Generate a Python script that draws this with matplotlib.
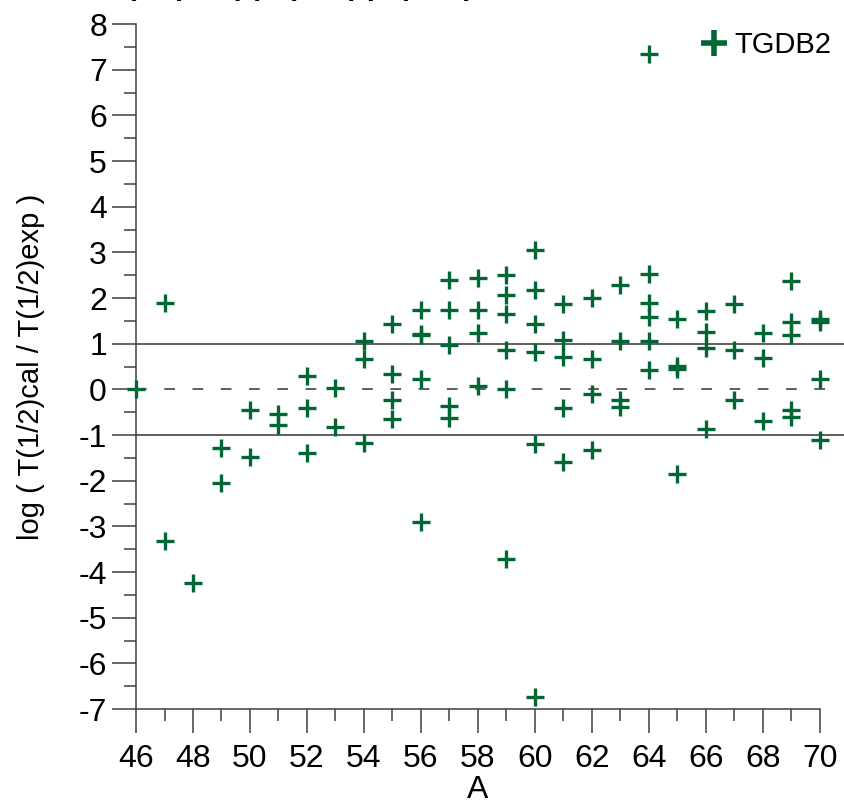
import matplotlib.pyplot as plt
from matplotlib.lines import Line2D
from matplotlib.ticker import MultipleLocator

plt.rcParams['font.family'] = ['Liberation Sans', 'DejaVu Sans']
plt.rcParams['axes.unicode_minus'] = False

# mass number A and log(T1/2 cal / T1/2 exp) values
A = [46,
     47, 47,
     48,
     49, 49,
     50, 50,
     51, 51,
     52, 52, 52,
     53, 53,
     54, 54, 54,
     55, 55, 55, 55,
     56, 56, 56, 56, 56,
     57, 57, 57, 57, 57,
     58, 58, 58, 58,
     59, 59, 59, 59, 59, 59,
     60, 60, 60, 60, 60, 60,
     61, 61, 61, 61, 61,
     62, 62, 62, 62,
     63, 63, 63, 63,
     64, 64, 64, 64, 64, 64,
     65, 65, 65, 65,
     66, 66, 66, 66,
     67, 67, 67,
     68, 68, 68,
     69, 69, 69, 69, 69,
     70, 70, 70, 70]
ratio = [0.0,
         1.89, -3.33,
         -4.25,
         -1.29, -2.06,
         -0.46, -1.48,
         -0.55, -0.77,
         0.29, -0.40, -1.40,
         0.02, -0.83,
         1.06, 0.66, -1.17,
         1.43, 0.34, -0.23, -0.66,
         1.73, 1.22, 1.18, 0.22, -2.91,
         2.40, 1.73, 0.97, -0.36, -0.62,
         2.43, 1.73, 1.24, 0.08,
         2.50, 2.06, 1.66, 0.86, 0.0, -3.71,
         3.05, 2.17, 1.43, 0.82, -1.19, -6.73,
         1.86, 1.09, 0.70, -0.40, -1.59,
         2.00, 0.67, -0.11, -1.32,
         2.28, 1.05, -0.23, -0.38,
         7.34, 2.52, 1.89, 1.59, 1.05, 0.43,
         1.54, 0.51, 0.44, -1.86,
         1.71, 1.26, 0.91, -0.86,
         1.86, 0.87, -0.23,
         1.24, 0.69, -0.69,
         2.37, 1.48, 1.20, -0.45, -0.61,
         1.54, 1.48, 0.23, -1.12]

green = '#006633'
axcol = '#404040'

fig = plt.figure(figsize=(8.45, 8.09), dpi=100)
ax = fig.add_axes([0.161, 0.1236, 0.809, 0.8467])

# reference lines
ax.plot([46, 70.9], [1, 1], color='#333333', lw=1.1, clip_on=False, zorder=1)
ax.plot([46, 70.9], [-1, -1], color='#333333', lw=1.1, clip_on=False, zorder=1)
ax.plot([46, 70.7], [0, 0], color='#333333', lw=1.1, dashes=(7, 11.5),
        clip_on=False, zorder=1)

ax.plot(A, ratio, linestyle='none', marker='+', ms=12.5, mew=2.4,
        color=green, clip_on=False, zorder=3)

ax.set_xlim(46, 70)
ax.set_ylim(-7, 8)
ax.xaxis.set_major_locator(MultipleLocator(2))
ax.xaxis.set_minor_locator(MultipleLocator(1))
ax.yaxis.set_major_locator(MultipleLocator(1))
ax.yaxis.set_minor_locator(MultipleLocator(0.5))

for s in ['top', 'right']:
    ax.spines[s].set_visible(False)
for s in ['left', 'bottom']:
    ax.spines[s].set_color(axcol)
    ax.spines[s].set_linewidth(1.1)

ax.tick_params(which='major', direction='out', length=17, width=1.1,
               color=axcol, labelsize=23)
ax.tick_params(axis='x', which='major', pad=8)
ax.tick_params(axis='y', which='major', pad=4)
ax.tick_params(which='minor', direction='out', length=8.5, width=1.1,
               color=axcol)

ax.set_xlabel('A', fontsize=23, labelpad=1)
ax.set_ylabel('log ( T(1/2)cal / T(1/2)exp )', fontsize=21, labelpad=24)

handle = Line2D([], [], linestyle='none', marker='+', ms=19, mew=4,
                color=green)
ax.legend([handle], ['TGDB2'], loc='upper right', frameon=False,
          fontsize=21, handlelength=1.0, handletextpad=0.2,
          borderaxespad=0, borderpad=0, bbox_to_anchor=(1.0175, 0.99))

# title mostly cut off at the top edge of the image
fig.text(0.47, 1 + 5 / 809, 'Ratio of T(1/2): Eq (10), Eq (11), experimental data decades',
         ha='center', va='baseline', fontsize=21, fontweight='bold')

fig.savefig('out.png', dpi=100)
